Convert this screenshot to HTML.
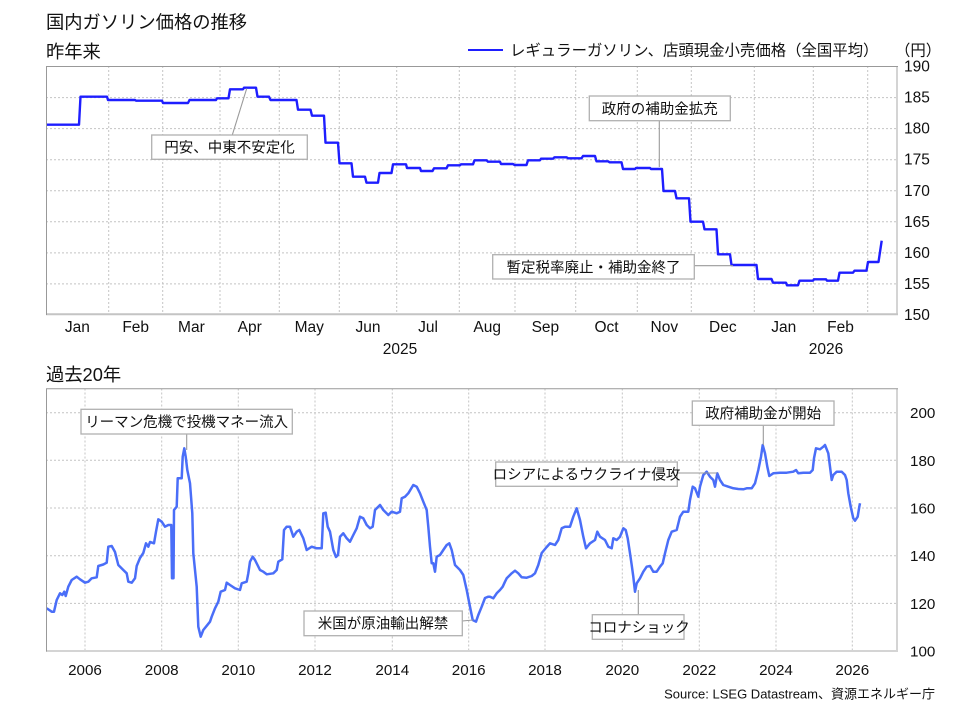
<!DOCTYPE html>
<html><head><meta charset="utf-8"><style>
html,body{margin:0;padding:0;background:#fff;}
svg{display:block;}
text{font-family:"Liberation Sans","Noto Sans CJK JP",sans-serif;fill:#111;}
.g{stroke:#c4c4c4;stroke-width:1;stroke-dasharray:2 2;fill:none;}
.bx{fill:#fff;stroke:#b0b0b0;stroke-width:1.3;}
.cn{stroke:#9a9a9a;stroke-width:1.1;fill:none;}
.ax{font-size:15.5px;}
.an{font-size:14.5px;}
</style></head><body>
<svg width="956" height="708" viewBox="0 0 956 708" xmlns="http://www.w3.org/2000/svg">
<rect width="956" height="708" fill="#fff"/>
<!-- Titles -->
<text x="46" y="28.3" style="font-size:18.3px">国内ガソリン価格の推移</text>
<text x="46" y="58" style="font-size:18.3px">昨年来</text>
<text x="46" y="381" style="font-size:18.3px">過去20年</text>
<!-- Legend -->
<line x1="468" y1="50" x2="503" y2="50" stroke="#1e1eff" stroke-width="2"/>
<text x="510" y="55.5" style="font-size:15.4px">レギュラーガソリン、店頭現金小売価格（全国平均）</text>
<text x="895" y="55.5" style="font-size:15.4px">（円）</text>

<!-- TOP CHART grid -->
<g class="g">
<line x1="46" y1="97.6" x2="898" y2="97.6"/>
<line x1="46" y1="128.6" x2="898" y2="128.6"/>
<line x1="46" y1="159.7" x2="898" y2="159.7"/>
<line x1="46" y1="190.8" x2="898" y2="190.8"/>
<line x1="46" y1="221.8" x2="898" y2="221.8"/>
<line x1="46" y1="252.9" x2="898" y2="252.9"/>
<line x1="46" y1="283.9" x2="898" y2="283.9"/>
<line x1="108.7" y1="66" x2="108.7" y2="315"/>
<line x1="162.7" y1="66" x2="162.7" y2="315"/>
<line x1="220" y1="66" x2="220" y2="315"/>
<line x1="279.3" y1="66" x2="279.3" y2="315"/>
<line x1="339.3" y1="66" x2="339.3" y2="315"/>
<line x1="396.7" y1="66" x2="396.7" y2="315"/>
<line x1="459.3" y1="66" x2="459.3" y2="315"/>
<line x1="515" y1="66" x2="515" y2="315"/>
<line x1="575.7" y1="66" x2="575.7" y2="315"/>
<line x1="637.3" y1="66" x2="637.3" y2="315"/>
<line x1="691.3" y1="66" x2="691.3" y2="315"/>
<line x1="754.3" y1="66" x2="754.3" y2="315"/>
<line x1="813.3" y1="66" x2="813.3" y2="315"/>
<line x1="867.7" y1="66" x2="867.7" y2="315"/>
</g>
<!-- top series -->
<path fill="none" stroke="#1e1eff" stroke-width="2.4" stroke-linejoin="round" d="M46 124.7 H79 L80.5 96.7 H107 L108 100 H135 L136 100.7 H162 L163 103 H188 L189.5 100 H216 L217 98.3 H228.5 L230 89.3 H243 L244 87.7 H256 L257.5 96.7 H269 L270.5 100 H296.5 L298 109.7 H310.5 L312 115.7 H324 L325.5 142.7 H338 L339.5 163.3 H351.5 L353 176.7 H365 L366.5 182.7 H378 L379.5 173 H391.5 L393 164.3 H406 L407 168 H420 L421 171 H432.5 L434 168.3 H446.5 L448 165.3 H460 L461 164.3 H473 L474.5 160.3 H486.5 L488 161.7 H500 L501 164 H513 L514.5 165 H526.5 L528 160.3 H540 L541 158.7 H553 L554.5 157.3 H566.5 L568 158.3 H581.5 L583 156 H595 L596.5 161.3 H608 L609.5 162.3 H621.5 L623 169 H635 L636 168 H650 L651 169 H662 L663.5 191 H675 L676.5 198.3 H689 L690.5 221.7 H703 L704.5 229.3 H716.5 L718 254.3 H730 L731.5 265 H756.5 L758 279 H771.5 L773 282.7 H786 L787 285.3 H798 L799.5 280.7 H813 L814 279.3 H826 L827 280.7 H838 L839.5 272.7 H853 L854.5 270.7 H866.5 L868 262 H878.5 L881.7 240.7"/>
<!-- top annotations -->
<line class="cn" x1="232.3" y1="135" x2="246.7" y2="88.5"/>
<line class="cn" x1="659.3" y1="120.7" x2="659.3" y2="167"/>
<line class="cn" x1="694.3" y1="265.7" x2="733" y2="265.7"/>
<rect class="bx" x="151.7" y="135" width="155.6" height="24.3"/>
<text class="an" x="229.5" y="152.6" text-anchor="middle">円安、中東不安定化</text>
<rect class="bx" x="589.3" y="96" width="141" height="24.7"/>
<text class="an" x="659.8" y="113.8" text-anchor="middle">政府の補助金拡充</text>
<rect class="bx" x="492.7" y="254.7" width="201.6" height="24.3"/>
<text class="an" x="593.5" y="272.3" text-anchor="middle">暫定税率廃止・補助金終了</text>
<!-- top frame -->
<line x1="897" y1="66" x2="897" y2="315" stroke="#d4d4d4" stroke-width="2"/>
<line x1="46" y1="314.3" x2="898" y2="314.3" stroke="#c4c4c4" stroke-width="2"/>
<line x1="46" y1="66.5" x2="898" y2="66.5" stroke="#999" stroke-width="1"/>
<line x1="46.5" y1="66" x2="46.5" y2="315" stroke="#999" stroke-width="1"/>
<!-- top axis labels -->
<g class="ax">
<text x="904" y="71.5">190</text>
<text x="904" y="102.6">185</text>
<text x="904" y="133.6">180</text>
<text x="904" y="164.7">175</text>
<text x="904" y="195.8">170</text>
<text x="904" y="226.8">165</text>
<text x="904" y="257.9">160</text>
<text x="904" y="288.9">155</text>
<text x="904" y="320">150</text>
</g>
<g class="ax" text-anchor="middle">
<text x="77.4" y="332">Jan</text>
<text x="135.7" y="332">Feb</text>
<text x="191.4" y="332">Mar</text>
<text x="249.7" y="332">Apr</text>
<text x="309.3" y="332">May</text>
<text x="368" y="332">Jun</text>
<text x="428" y="332">Jul</text>
<text x="487.2" y="332">Aug</text>
<text x="545.4" y="332">Sep</text>
<text x="606.5" y="332">Oct</text>
<text x="664.3" y="332">Nov</text>
<text x="722.8" y="332">Dec</text>
<text x="783.8" y="332">Jan</text>
<text x="840.5" y="332">Feb</text>
<text x="400" y="354">2025</text>
<text x="826" y="354">2026</text>
</g>

<!-- BOTTOM CHART grid -->
<g class="g">
<line x1="46" y1="412.7" x2="898" y2="412.7"/>
<line x1="46" y1="460.3" x2="898" y2="460.3"/>
<line x1="46" y1="508" x2="898" y2="508"/>
<line x1="46" y1="555.7" x2="898" y2="555.7"/>
<line x1="46" y1="603.4" x2="898" y2="603.4"/>
<line x1="85" y1="388.5" x2="85" y2="651"/>
<line x1="161.7" y1="388.5" x2="161.7" y2="651"/>
<line x1="238.3" y1="388.5" x2="238.3" y2="651"/>
<line x1="315" y1="388.5" x2="315" y2="651"/>
<line x1="392.3" y1="388.5" x2="392.3" y2="651"/>
<line x1="468.7" y1="388.5" x2="468.7" y2="651"/>
<line x1="545" y1="388.5" x2="545" y2="651"/>
<line x1="622.3" y1="388.5" x2="622.3" y2="651"/>
<line x1="699.3" y1="388.5" x2="699.3" y2="651"/>
<line x1="776" y1="388.5" x2="776" y2="651"/>
<line x1="852.3" y1="388.5" x2="852.3" y2="651"/>
</g>
<!-- bottom series -->
<polyline fill="none" stroke="#4a6ef8" stroke-width="2.5" stroke-linejoin="round" points="46.7,608.3 50,610.5 51.7,611.7 54,611.7 56.7,600 60,593.3 62.3,595 64.3,591.7 65.7,596 68.3,586.7 71.7,580 76.7,576.7 80,579.3 85,582.7 88.3,581.7 91.7,578.3 96.7,577.3 98.3,566 103.3,564.5 106.7,562.7 108.3,546.7 111.7,546 115,552 118.3,565 123.3,570 126.7,573.3 128.3,581.7 131.7,582.7 135,578.3 136.7,566 140,558 143.3,553 146,543.3 148.3,546.7 150,542 154,543.3 156,531.7 158.3,519.3 161.7,521.7 165,526.7 168.3,525 171.3,525 172,578.3 173.5,578.3 174,510 176.7,506.7 177.7,478.3 181.7,478.3 182.7,456.7 184.3,448.3 185.7,456.7 187.3,470 190,483.3 192.3,513.3 193.3,553.3 196.7,586.7 198.3,626.7 200.7,636.7 203.3,630 206,626.7 210,621.7 211.7,616.7 215,608.3 218.3,601.7 220.7,591.7 225,590 226.7,582.7 230,585 235,588.3 240,590 241.7,583.3 246.7,581.7 248.3,573.3 250,561.7 252.7,556.7 255,560 260,570 263.3,571.7 266.7,574.3 273.3,573.3 276.7,570 278.3,561.7 282.3,559.3 284,530 286.7,526.7 290,526.7 293.3,536.7 296.7,531.7 299.3,530 303.3,538.3 306.7,550 311.7,546.7 316.7,548.3 321.7,548.3 323.3,513.3 325.7,512.7 327.7,526.7 330,531.7 333.3,550 336,557 338,555 340,536.7 343.3,533.3 346.7,538.3 350,541.7 353.3,535 356.7,528.3 360,516.7 363.3,518.3 366.7,525 370,528.3 372.7,526.7 375,510 380,505 383.3,510 388.3,515 391.7,511.7 396.7,513.3 400,511.7 401.7,498.3 405,496.7 408.3,493.3 413.3,485 416.7,486.7 420,493.3 423.3,501.7 426.7,510 428.3,526.7 430,546.7 431.7,563.3 433.3,563.3 435,571.7 436.7,556.7 440,555 443.3,550 446.7,545 449.3,543.3 451.7,550 455,565 460,570 463.3,575 466.7,590 470,606.7 472.7,620 476,621.7 478.3,615 481.7,606.7 485,598 488.3,596.7 490,596.7 493.3,598.3 496.7,593.3 500,590 502.7,586.7 505,581.7 506.7,578.3 511.7,573.3 515,570.7 518.3,573.3 521.7,577.3 526.7,577.7 531.7,576 535,573.3 538.3,565 541.7,553 546.7,547 550,543.3 555,545 558.3,540 561.7,528.3 565,526.7 570,526.7 573.3,516.7 576.7,508.3 580,520 583.3,536.7 586,548.3 590,543.3 595,540 597.3,531.7 600,536.7 605,540 608.3,546.7 611.7,548.3 613.3,538.3 616.7,540 620,536.7 623.3,528.3 625.7,530 627.7,538.3 630,553.3 631.7,565 633.3,576.7 635,591.7 636.7,583.3 640,578.3 643.3,571.7 646.7,566.7 650,566 653.3,571.7 656.7,571.7 660,566.7 662.7,563.3 665,553.3 668.3,540 671.7,531.7 676.7,530 680,516.7 683.3,511.7 688.3,511.7 690,500 692.7,486.7 695,488.3 698.3,496.7 700,486.7 703.3,475 706.7,471.7 710,476.7 713.3,480 715,486.7 717.3,473.3 720,480 723.3,485 728.3,486.7 733.3,488.3 738.3,489 743.3,489.3 746.7,488.3 751.7,488.3 755,483.3 758.3,470 761,456.7 762.7,445 765,453.3 767.3,466.7 769.3,476 773.3,473.3 780,472.7 786.7,472.7 793.3,471.7 796,470 798.3,473.3 803.3,472.7 810,472.7 812.7,470 814,458.3 816,448.3 820,449.3 823.3,446.7 825,445 828.3,453.3 830,466.7 831.7,480 833.3,475 836.7,471.7 841.7,471.7 845,475 846.7,480 848.3,493.3 850.7,506.7 853.3,518.3 855,520.7 857.7,516.7 859.3,506.7 860,503.3"/>
<!-- bottom annotations -->
<line class="cn" x1="186.7" y1="434" x2="186.7" y2="450"/>
<line class="cn" x1="763.3" y1="425.3" x2="763.3" y2="445"/>
<line class="cn" x1="677.3" y1="473" x2="717.3" y2="473"/>
<line class="cn" x1="462.3" y1="621" x2="473" y2="620"/>
<line class="cn" x1="638.3" y1="614.7" x2="638.3" y2="590"/>
<rect class="bx" x="81" y="409.3" width="211.3" height="24.7"/>
<text class="an" x="186.7" y="427" text-anchor="middle">リーマン危機で投機マネー流入</text>
<rect class="bx" x="692.3" y="401" width="141.7" height="24.3"/>
<text class="an" x="763.2" y="418.6" text-anchor="middle">政府補助金が開始</text>
<rect class="bx" x="495.7" y="462" width="181.6" height="24.3"/>
<text class="an" x="586.5" y="479.6" text-anchor="middle">ロシアによるウクライナ侵攻</text>
<rect class="bx" x="304" y="611" width="158.3" height="24.7"/>
<text class="an" x="383" y="628.7" text-anchor="middle">米国が原油輸出解禁</text>
<rect class="bx" x="592.3" y="614.7" width="91.7" height="24.6"/>
<text class="an" x="639" y="632.4" text-anchor="middle">コロナショック</text>
<!-- bottom frame -->
<line x1="897" y1="388.5" x2="897" y2="651.5" stroke="#d4d4d4" stroke-width="2"/>
<line x1="46" y1="651" x2="898" y2="651" stroke="#d4d4d4" stroke-width="2"/>
<line x1="46" y1="388.8" x2="898" y2="388.8" stroke="#999" stroke-width="1"/>
<line x1="46.5" y1="388.5" x2="46.5" y2="651.5" stroke="#999" stroke-width="1"/>
<!-- bottom axis labels -->
<g class="ax" style="font-size:15.2px">
<text x="910" y="418.2">200</text>
<text x="910" y="465.8">180</text>
<text x="910" y="513.5">160</text>
<text x="910" y="561.2">140</text>
<text x="910" y="608.9">120</text>
<text x="910" y="656.5">100</text>
</g>
<g class="ax" text-anchor="middle" style="font-size:15.2px">
<text x="85" y="675">2006</text>
<text x="161.7" y="675">2008</text>
<text x="238.3" y="675">2010</text>
<text x="315" y="675">2012</text>
<text x="392.3" y="675">2014</text>
<text x="468.7" y="675">2016</text>
<text x="545" y="675">2018</text>
<text x="622.3" y="675">2020</text>
<text x="699.3" y="675">2022</text>
<text x="776" y="675">2024</text>
<text x="852.3" y="675">2026</text>
</g>
<text x="935" y="698.7" text-anchor="end" style="font-size:13px">Source: LSEG Datastream、資源エネルギー庁</text>
</svg>
</body></html>
